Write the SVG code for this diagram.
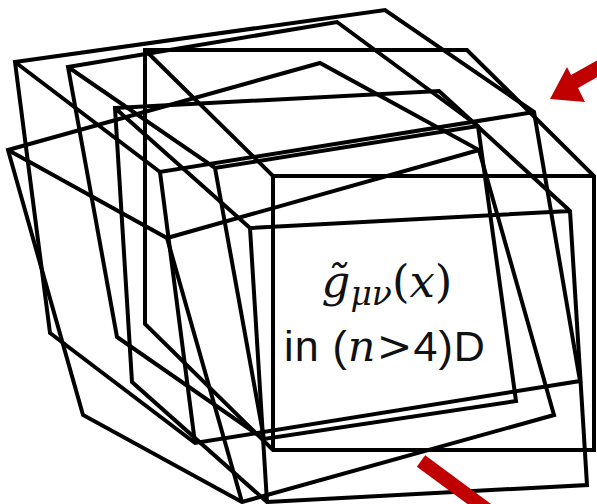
<svg xmlns="http://www.w3.org/2000/svg" width="597" height="504" viewBox="0 0 597 504">
<style>
.cube{fill:none;stroke:#000;stroke-width:4;stroke-linejoin:miter}
.sans{font-family:"Liberation Sans",Arial,sans-serif;font-size:43px;fill:#111}
.math{font-family:"DejaVu Serif","Liberation Serif",serif;font-style:italic;fill:#111}
.arrow{fill:#c00000}
</style>
<rect width="597" height="504" fill="#fff"/>
<g id="cube-E"><path class="cube" d="M8,150 L320,63 L479,150 L554,415 L242,502 L83,415 Z M8,150 L167,238 L479,150 M167,238 L242,502"/></g>
<g id="cube-B"><path class="cube" d="M15,62 L385,10 L534,112 L580,381 L195,443 L50,333 Z M15,62 L160,172 L534,112 M160,172 L195,443"/></g>
<g id="cube-D"><path class="cube" d="M68,67 L337,22 L478,126 L516,401 L264,439 L117,337 Z M68,67 L215,168 L478,126 M215,168 L264,439"/></g>
<g id="cube-F"><path class="cube" d="M115,108 L439,91 L570,211 L587,485 L267,502 L132,382 Z M115,108 L250,228 L570,211 M250,228 L267,502"/></g>
<g id="cube-A"><path class="cube" d="M145,50 L467,50 L594,176 L594,450 L273,450 L145,324 Z M145,50 L273,176 L594,176 M273,176 L273,450"/></g>
<g id="label">
<text x="387" y="297" text-anchor="middle" class="math" font-size="45">g&#x303;<tspan font-size="33" dy="8">μν</tspan><tspan dy="-8" font-style="normal">(</tspan>x<tspan font-style="normal">)</tspan></text>
<text x="385" y="361" text-anchor="middle" class="sans" letter-spacing="1">in (<tspan class="math">n</tspan><tspan font-family="DejaVu Serif,serif">&gt;</tspan>4)D</text>
</g>
<g id="connectors">
<polygon class="arrow" points="550,99 567,67 571,75 603,57 610,70 578,88 585,102"/>
<line x1="421" y1="461" x2="505" y2="523" stroke="#c00000" stroke-width="14"/>
</g>
</svg>
